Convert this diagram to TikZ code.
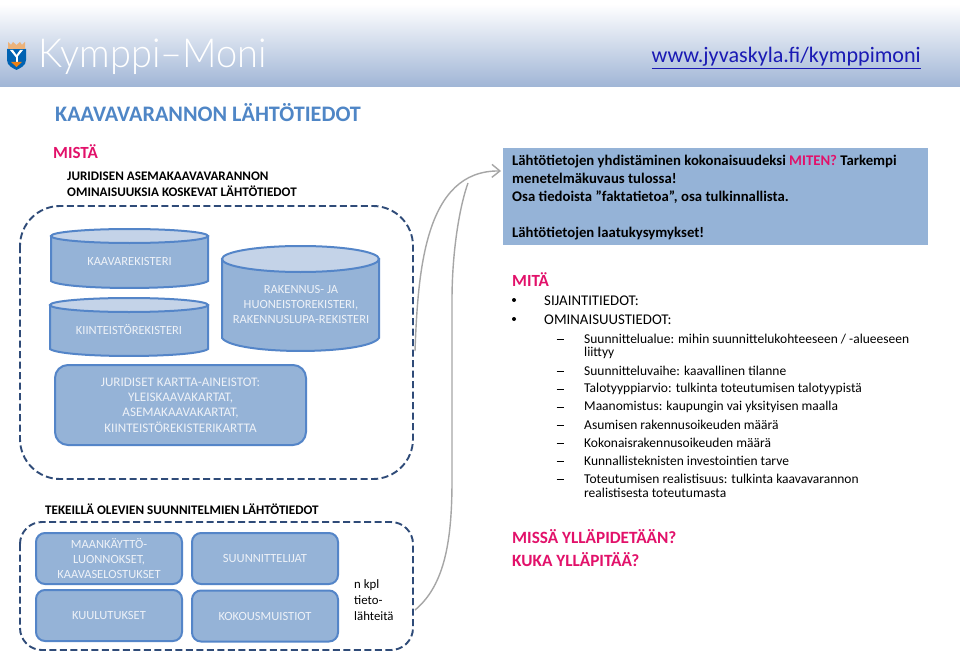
\documentclass[tikz,border=0pt]{standalone}
\usepackage{fontspec}
\setmainfont{Carlito}
\newfontfamily\logofont{Lato Light}
\usetikzlibrary{arrows.meta,shapes.geometric}
\definecolor{boxfill}{HTML}{95B3D7}
\definecolor{boxline}{HTML}{5485C8}
\definecolor{lidfill}{HTML}{C4D3E8}
\definecolor{dashcol}{HTML}{2F4B78}
\definecolor{magenta2}{HTML}{E2116A}
\definecolor{titleblue}{HTML}{4F86C6}
\definecolor{headblue}{HTML}{A0B5D6}
\definecolor{arrowgray}{HTML}{A6A6A6}
\definecolor{urlblue}{HTML}{1A1AB4}
\definecolor{whitesoft}{HTML}{EEF2F8}
\tikzset{
  x=1pt,y=-1pt,
  dashbox/.style={draw=dashcol,line width=1.9pt,dash pattern=on 7pt off 3.5pt},
  roundbox/.style={draw=boxline,line width=2pt,fill=boxfill,rounded corners=9pt},
  cylbody/.style={draw=boxline,line width=2pt,fill=boxfill},
  cyllid/.style={draw=boxline,line width=2pt,fill=lidfill},
  whitelabel/.style={text=whitesoft,font=\fontsize{12.5}{15}\selectfont,align=center,inner sep=0pt},
  biglabel/.style={text=whitesoft,font=\fontsize{13.1}{15.3}\selectfont,align=center,inner sep=0pt},
  blacklabel/.style={text=black,font=\bfseries\fontsize{13.1}{16}\selectfont,align=left,inner sep=0pt,anchor=west},
  plainlabel/.style={text=black,font=\fontsize{12.8}{16}\selectfont,align=left,inner sep=0pt,anchor=west},
  itemlabel/.style={text=black,inner sep=0pt,anchor=west,font=\fontsize{14.8}{18}\selectfont},
  sublabel/.style={text=black,inner sep=0pt,anchor=west,font=\fontsize{13.5}{15}\selectfont},
  pinklabel/.style={text=magenta2,font=\bfseries\fontsize{17}{20}\selectfont,inner sep=0pt,anchor=west},
  flow/.style={draw=arrowgray,line width=1.4pt}
}
\newcommand{\cyl}[5]{% x1,x2,ytop centre,ry,ybottom side
  \draw[cylbody] (#1,#3) -- (#1,#5) .. controls (#1+12,{#5+#4*1.33}) and (#2-12,{#5+#4*1.33}) .. (#2,#5) -- (#2,#3) -- cycle;
  \draw[cyllid] ({(#1+#2)/2},#3) ellipse[x radius={(#2-#1)/2},y radius=#4];
}
\begin{document}
\begin{tikzpicture}
\useasboundingbox (0,0) rectangle (960,655);
\fill[white] (0,0) rectangle (960,655);
% header
\shade[top color=white,bottom color=headblue] (0,4) rectangle (960,87);
\node[anchor=west,inner sep=0pt,text=white,font=\logofont\fontsize{40}{40}\selectfont,xscale=.95] (logo) at (38,57) {Kymppi–Moni};
% coat of arms
\fill[blue!45!cyan!70!black] (7,49) -- (26,49) -- (26,60) .. controls (26,66) and (20,68) .. (16.5,70) .. controls (13,68) and (7,66) .. (7,60) -- cycle;
\fill[white] (10,50) -- (16.5,58) -- (23,50) -- (20,50) -- (16.5,55) -- (13,50) -- cycle;
\fill[white] (15.5,55) rectangle (17.5,62);
\fill[orange!70!brown] (11,62) -- (22,62) -- (16.5,67) -- cycle;
\fill[orange!50!brown!60] (8,42) -- (11,45) -- (13,42) -- (16.5,45) -- (20,42) -- (22,45) -- (25,42) -- (25,49) -- (8,49) -- cycle;
\node[anchor=east,inner sep=0pt,text=urlblue,font=\fontsize{22.1}{27}\selectfont] (url) at (921,58) {\underline{www.jyvaskyla.fi/kymppimoni}};
% titles
\node[anchor=west,inner sep=0pt,text=titleblue,font=\bfseries\fontsize{22.15}{26}\selectfont] (title) at (55,113) {KAAVAVARANNON LÄHTÖTIEDOT};
\node[pinklabel] (mista) at (53,152) {MISTÄ};
\node[blacklabel] (juri) at (67,184) {JURIDISEN ASEMAKAAVAVARANNON\\OMINAISUUKSIA KOSKEVAT LÄHTÖTIEDOT};
% connectors
\coordinate (from1) at (415,351);
\coordinate (from2) at (415,610);
\coordinate (merge) at (468,183);
\coordinate (tip) at (501,171);
\draw[flow] (from2) .. controls (445,585) and (452,540) .. (452,480) -- (452,300) .. controls (452,250) and (460,205) .. (merge);
\draw[flow,-{Straight Barb[length=8pt,width=13pt]}] (from1) .. controls (418,270) and (425,170) .. (tip);
% dashed boxes
\draw[dashbox] (20,206) [rounded corners=40pt] rectangle (413,479);
\draw[dashbox] (20,522) [rounded corners=22pt] rectangle (413,650);
% cylinders
\cyl{51}{208}{236}{7}{281}
\cyl{50}{208}{305}{7}{349}
\cyl{222}{379}{259}{13}{338}
\node[whitelabel] (k1) at (129.5,261) {KAAVAREKISTERI};
\node[whitelabel] (k2) at (129,330) {KIINTEISTÖREKISTERI};
\node[whitelabel] (k3) at (301,304) {RAKENNUS- JA\\HUONEISTOREKISTERI,\\RAKENNUSLUPA-REKISTERI};
\node[roundbox,minimum width=251pt,minimum height=80pt,rounded corners=13pt,biglabel] (j) at (180.5,405) {JURIDISET KARTTA-AINEISTOT:\\YLEISKAAVAKARTAT,\\ASEMAKAAVAKARTAT,\\KIINTEISTÖREKISTERIKARTTA};
\node[blacklabel] (tek) at (45,509) {TEKEILLÄ OLEVIEN SUUNNITELMIEN LÄHTÖTIEDOT};
\node[roundbox,minimum width=146pt,minimum height=51pt,whitelabel] (a) at (109,558.5) {MAANKÄYTTÖ-\\LUONNOKSET,\\KAAVASELOSTUKSET};
\node[roundbox,minimum width=146pt,minimum height=51pt,whitelabel] (b) at (265,558.5) {SUUNNITTELIJAT};
\node[roundbox,minimum width=146pt,minimum height=51pt,whitelabel] (c) at (109,615.5) {KUULUTUKSET};
\node[roundbox,minimum width=146pt,minimum height=51pt,whitelabel] (d) at (265,616) {KOKOUSMUISTIOT};
\node[plainlabel] (n) at (354,600) {n kpl\\tieto-\\lähteitä};
% blue box
\fill[boxfill] (503,148) rectangle (928,245);
\node[anchor=north west,inner sep=0pt,text=black,font=\bfseries\fontsize{14.75}{18}\selectfont,align=left] (t) at (512,154.5) {Lähtötietojen yhdistäminen kokonaisuudeksi \textcolor{magenta2}{MITEN?} Tarkempi\\menetelmäkuvaus tulossa!\\Osa tiedoista ”faktatietoa”, osa tulkinnallista.\\[18pt]Lähtötietojen laatukysymykset!};
% right list
\node[pinklabel] (mita) at (512,280) {MITÄ};
\fill (514,300) circle (2);
\fill (514,319) circle (2);
\node[itemlabel] at (544,301) {SIJAINTITIEDOT:};
\node[itemlabel] at (544,320) {OMINAISUUSTIEDOT:};
\foreach \yy/\ttt in {
 339/{Suunnittelualue: mihin suunnittelukohteeseen / -alueeseen},
 353/{liittyy},
 371/{Suunnitteluvaihe: kaavallinen tilanne},
 389/{Talotyyppiarvio: tulkinta toteutumisen talotyypistä},
 407/{Maanomistus: kaupungin vai yksityisen maalla},
 425/{Asumisen rakennusoikeuden määrä},
 443/{Kokonaisrakennusoikeuden määrä},
 461/{Kunnallisteknisten investointien tarve},
 479/{Toteutumisen realistisuus: tulkinta kaavavarannon},
 493/{realistisesta toteutumasta}}
 {\node[sublabel] at (584,\yy) {\ttt};}
\foreach \yy in {339,371,389,407,425,443,461,479}
 {\draw[black,line width=1pt] (556.5,\yy) -- (563.5,\yy);}
\node[pinklabel,align=left,font=\bfseries\fontsize{17.2}{23}\selectfont] (my) at (512,548) {MISSÄ YLLÄPIDETÄÄN?\\KUKA YLLÄPITÄÄ?};
\end{tikzpicture}
\end{document}
